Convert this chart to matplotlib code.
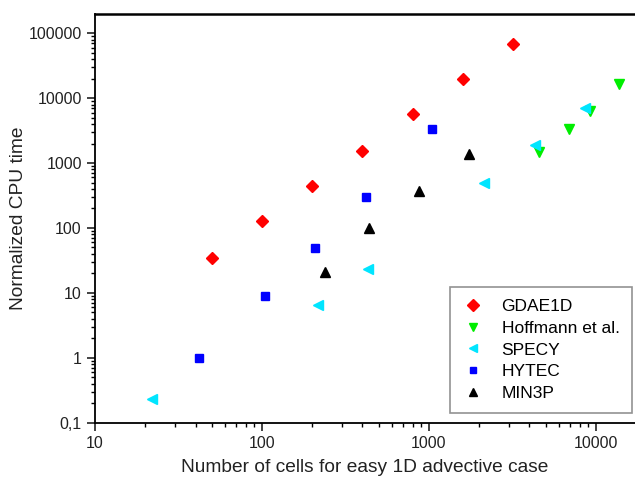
import matplotlib
matplotlib.use("Agg")
import matplotlib.pyplot as plt
from matplotlib.ticker import FixedLocator, FuncFormatter, LogLocator, NullFormatter

plt.rcParams['font.family'] = ['Liberation Sans', 'DejaVu Sans']

gdae_x = [50, 100, 200, 400, 800, 1600, 3200]
gdae_y = [35, 130, 450, 1550, 5700, 19500, 68000]

hoff_x = [4580, 6870, 9160, 13700]
hoff_y = [1490, 3370, 6400, 16300]

specy_x = [22, 217, 434, 2144, 4315, 8590]
specy_y = [0.23, 6.4, 23.6, 490, 1910, 7200]

hytec_x = [42, 104, 207, 418, 1043]
hytec_y = [1.0, 8.9, 49, 300, 3400]

min3p_x = [238, 437, 875, 1742]
min3p_y = [21, 100, 372, 1400]

x_ticks = [10, 100, 1000, 10000]
y_ticks = [0.1, 1, 10, 100, 1000, 10000, 100000]
y_tick_labels = ["0,1", "1", "10", "100", "1000", "10000", "100000"]

fig = plt.figure(figsize=(6.35, 4.78), dpi=100)
ax = fig.add_axes([0.1496, 0.116, 0.8504, 0.8547])

ax.plot(gdae_x, gdae_y, linestyle='none', marker='D', color='#ff0000', markersize=6.3, label='GDAE1D')
ax.plot(hoff_x, hoff_y, linestyle='none', marker='v', color='#00ee00', markersize=7, label='Hoffmann et al.')
ax.plot(specy_x, specy_y, linestyle='none', marker='<', color='#00e5ff', markersize=7, label='SPECY')
ax.plot(hytec_x, hytec_y, linestyle='none', marker='s', color='#0000ff', markersize=5.3, label='HYTEC')
ax.plot(min3p_x, min3p_y, linestyle='none', marker='^', color='#000000', markersize=7, label='MIN3P')

ax.set_xscale('log')
ax.set_yscale('log')
ax.set_xlim(10, 17150)
ax.set_ylim(0.1, 199000)

ax.xaxis.set_major_locator(FixedLocator(x_ticks))
ax.xaxis.set_major_formatter(FuncFormatter(lambda v, p: "%d" % round(v)))
ax.xaxis.set_minor_locator(LogLocator(base=10, subs=range(2, 10), numticks=20))
ax.xaxis.set_minor_formatter(NullFormatter())

ax.yaxis.set_major_locator(FixedLocator(y_ticks))
ax.set_yticklabels(y_tick_labels)
ax.yaxis.set_minor_locator(LogLocator(base=10, subs=range(2, 10), numticks=20))
ax.yaxis.set_minor_formatter(NullFormatter())

ax.spines['right'].set_visible(False)
for s in ['left', 'bottom']:
    ax.spines[s].set_linewidth(1.3)
ax.spines['top'].set_linewidth(1.8)

ax.tick_params(which='major', direction='out', length=6, width=1.2, labelsize=11.5, colors='#222222')
ax.tick_params(which='minor', direction='out', length=3, width=1.0)
ax.tick_params(axis='both', which='both', top=False, right=False)

ax.set_xlabel('Number of cells for easy 1D advective case', fontsize=13.8, labelpad=6, color='#222222')
ax.set_ylabel('Normalized CPU time', fontsize=13.8, labelpad=1, color='#222222')

leg = ax.legend(loc='lower right', bbox_to_anchor=(0.994, 0.023), borderaxespad=0, fontsize=12.5,
                frameon=True, fancybox=False, edgecolor='#777777', handletextpad=1.0, borderpad=0.7,
                labelspacing=0.38, handlelength=1.3, markerscale=0.9)
leg.get_frame().set_linewidth(1.2)

fig.savefig('out.png', dpi=100)
